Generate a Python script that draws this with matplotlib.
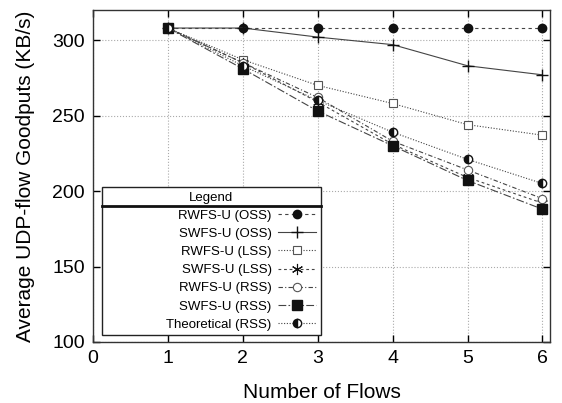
import matplotlib
matplotlib.use("Agg")
import matplotlib.pyplot as plt
from matplotlib.lines import Line2D
from matplotlib.offsetbox import DrawingArea

plt.rcParams['font.family'] = ['Liberation Sans', 'DejaVu Sans']

# Data
flows = [1, 2, 3, 4, 5, 6]
rwfs_oss = [308, 308, 308, 308, 308, 308]
swfs_oss = [308, 308, 302, 297, 283, 277]
rwfs_lss = [308, 287, 270, 258, 244, 237]
swfs_lss = [308, 285, 259, 231, 209, 192]
rwfs_rss = [308, 285, 262, 233, 214, 195]
swfs_rss = [308, 281, 253, 230, 207, 188]
theo_rss = [308, 283, 260, 239, 221, 205]

labels = ["RWFS-U (OSS)", "SWFS-U (OSS)", "RWFS-U (LSS)", "SWFS-U (LSS)",
          "RWFS-U (RSS)", "SWFS-U (RSS)", "Theoretical (RSS)"]

fig = plt.figure(figsize=(5.62, 4.03), dpi=100)
ax = fig.add_axes([0.1655, 0.1514, 0.813, 0.824])

lc = "#444444"
lw = 0.8
ax.plot(flows, rwfs_oss, color=lc, lw=lw, ls=(0, (3, 3)), marker='o', ms=6,
        mfc='#111111', mec='#111111', label=labels[0])
ax.plot(flows, swfs_oss, color=lc, lw=lw, ls='-', marker='+', ms=9,
        mew=1.0, mec='#111111', label=labels[1])
ax.plot(flows, rwfs_lss, color=lc, lw=lw, ls=(0, (1, 1.5)), marker='s', ms=6,
        mfc='white', mec='#555555', mew=0.8, label=labels[2])
ax.plot(flows, swfs_lss, color=lc, lw=lw, ls=(0, (2.5, 2.5)), marker=(6, 2, 0), ms=8,
        mec='#111111', mew=0.8, label=labels[3])
ax.plot(flows, rwfs_rss, color=lc, lw=lw, ls=(0, (4, 2, 1, 2)), marker='o', ms=6,
        mfc='white', mec='#555555', mew=0.8, label=labels[4])
ax.plot(flows, swfs_rss, color=lc, lw=lw, ls=(0, (7, 2, 1.5, 2)), marker='s', ms=7,
        mfc='#111111', mec='#111111', label=labels[5])
ax.plot(flows, theo_rss, color=lc, lw=lw, ls=(0, (1, 1.5)), marker='o', ms=6,
        fillstyle='left', mfc='#111111', mfcalt='white', mec='#111111', mew=1.0,
        label=labels[6])

ax.set_xlim(0, 6.1)
ax.set_ylim(100, 320)
ax.set_xticks([0, 1, 2, 3, 4, 5, 6])
ax.set_yticks([100, 150, 200, 250, 300])
ax.grid(True, ls=':', color='#aaaaaa', lw=0.8)
ax.tick_params(direction='in', top=True, right=True, labelsize=14, length=5,
               width=1.0, pad=6)
for s in ax.spines.values():
    s.set_linewidth(1.0)
    s.set_color('#333333')

ax.set_xlabel("Number of Flows", fontsize=15)
ax.set_ylabel("Average UDP-flow Goodputs (KB/s)", fontsize=15)
ax.yaxis.set_label_coords(-0.127, 0.5)
ax.xaxis.set_label_coords(0.5, -0.1235)

leg = ax.legend(loc='lower left', bbox_to_anchor=(0.02, 0.02, 0.478, 0.45),
                mode='expand', markerfirst=False,
                title="Legend", fontsize=9.5, title_fontsize=9.5, fancybox=False,
                edgecolor='#222222', framealpha=1, handlelength=2.9,
                labelspacing=0.45, borderpad=0.35, borderaxespad=0,
                handletextpad=0.45)
leg.get_frame().set_linewidth(1.0)
# push the single column to the right side of the box
leg._legend_handle_box.get_children().insert(0, DrawingArea(0, 0))

fig.canvas.draw()
fb = leg.get_frame().get_window_extent()
tb = leg.get_title().get_window_extent()
inv = fig.transFigure.inverted()
x0, y0 = inv.transform((fb.x0, tb.y0 - 2))
x1, _ = inv.transform((fb.x1, tb.y0 - 2))
fig.add_artist(Line2D([x0, x1], [y0, y0], color='#111111', lw=2.0,
                      transform=fig.transFigure))

fig.savefig("out.png", dpi=100)
